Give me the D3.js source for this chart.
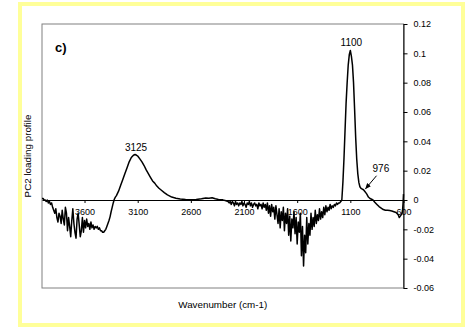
<!DOCTYPE html>
<html>
<head>
<meta charset="utf-8">
<script src="https://cdn.jsdelivr.net/npm/d3@7"></script>
<style>
  html, body { margin: 0; padding: 0; background: #ffffff; }
  svg { display: block; }
  text { font-family: "Liberation Sans", Arial, sans-serif; }
</style>
</head>
<body>
<svg id="chart" width="465" height="327"></svg>
<script>
// ---- data ----
const wavenumber = [
  4000,3990,3980,3970,3960,3950,3940,3930,3920,3910,3900,3890,3880,3870,3860,3850,3840,3830,3820,3810,
  3800,3790,3780,3770,3760,3750,3740,3730,3720,3710,3700,3690,3680,3670,3660,3650,3640,3630,3620,3610,
  3600,3590,3580,3570,3560,3550,3540,3530,3520,3510,3500,3490,3480,3470,3460,3450,3440,3430,3420,3410,
  3400,3390,3380,3370,3360,3350,3340,3330,3320,3310,
  3300,3280,3260,3240,3220,3200,3180,3160,3140,3125,3110,3100,3080,3060,3040,3020,3000,2980,2960,2940,
  2920,2900,2880,2850,2820,2780,2740,2700,2650,2600,2550,2500,2460,2430,2400,2370,2340,2300,2270,
  2250,2240,2230,2220,2210,2200,2190,2180,2170,2160,2150,2140,2130,2120,2110,2100,2090,2080,2070,2060,
  2050,2040,2030,2020,2010,2000,1990,1980,1970,1960,1950,1940,1930,1920,1910,1900,1890,1880,1870,1860,
  1850,1840,1830,1820,1810,1800,1790,1780,1770,1760,1750,1740,1730,1720,1710,1700,1690,1680,1670,1660,
  1650,1640,1630,1620,1610,1600,1590,1580,1570,1560,1550,1540,1530,1520,1510,1500,1490,1480,1470,1460,
  1450,1440,1430,1420,1410,1400,1390,1380,1370,1360,1350,1340,1330,1320,1310,1300,1290,1280,1270,1260,
  1250,1240,1230,1220,1210,1200,1190,
  1180,1170,1160,1150,1140,1130,1120,1110,1100,1090,1080,1070,1060,1050,1040,1030,1020,1010,1000,990,
  976,960,945,930,915,900,887,870,850,830,810,790,770,750,730,710,690,670,650,640,
  630,620,610,604,600
];
const pc2Loading = [
  0.001,0.001,0.000,0.000,-0.001,0.000,-0.002,-0.001,-0.003,-0.002,-0.005,-0.007,-0.009,-0.006,-0.012,-0.015,-0.009,-0.011,-0.016,-0.007,
  -0.013,-0.017,-0.005,-0.009,-0.021,-0.012,-0.018,-0.025,-0.014,-0.006,-0.016,-0.022,-0.026,-0.013,-0.009,-0.017,-0.025,-0.021,-0.012,-0.022,
  -0.014,-0.019,-0.013,-0.018,-0.016,-0.020,-0.015,-0.019,-0.017,-0.020,-0.018,-0.019,-0.018,-0.020,-0.019,-0.021,-0.021,-0.022,-0.022,-0.021,
  -0.020,-0.018,-0.016,-0.014,-0.0115,-0.008,-0.005,-0.002,0.0005,0.002,
  0.003,0.006,0.010,0.014,0.018,0.022,0.026,0.029,0.0305,0.031,0.0305,0.030,0.028,0.026,0.0235,0.0205,0.018,0.0155,0.013,0.0115,
  0.0095,0.008,0.0068,0.005,0.0035,0.002,0.0012,0.0007,0.0004,0.0002,0.0004,0.0008,0.0014,0.0012,0.0015,0.0008,0.0004,0.0001,-0.0005,
  -0.001,-0.002,-0.001,-0.003,-0.001,-0.002,-0.004,-0.001,-0.003,-0.002,-0.004,-0.002,-0.003,-0.001,-0.004,-0.002,-0.003,-0.005,-0.002,-0.003,
  -0.001,-0.004,-0.002,-0.005,-0.003,-0.002,-0.004,-0.003,-0.006,-0.002,-0.004,-0.003,-0.006,-0.002,-0.005,-0.003,-0.007,-0.002,-0.009,-0.004,
  -0.011,-0.003,-0.008,-0.005,-0.013,-0.004,-0.010,-0.016,-0.006,-0.019,-0.008,-0.014,-0.005,-0.021,-0.009,-0.016,-0.006,-0.024,-0.011,-0.028,
  -0.013,-0.019,-0.008,-0.023,-0.012,-0.030,-0.015,-0.022,-0.009,-0.038,-0.018,-0.045,-0.024,-0.036,-0.012,-0.030,-0.016,-0.024,-0.009,-0.020,
  -0.012,-0.018,-0.007,-0.016,-0.010,-0.014,-0.006,-0.013,-0.008,-0.012,-0.005,-0.010,-0.004,-0.008,-0.005,-0.007,-0.003,-0.006,-0.004,-0.005,
  -0.003,-0.004,-0.002,-0.003,-0.002,-0.002,-0.001,
  0.000,0.012,0.028,0.047,0.066,0.080,0.092,0.099,0.102,0.098,0.092,0.080,0.062,0.043,0.028,0.018,0.012,0.009,0.008,0.0075,
  0.007,0.0055,0.004,0.002,0.001,0.0005,0.000,-0.0015,-0.003,-0.0045,-0.0055,-0.0065,-0.007,-0.007,-0.0072,-0.0075,-0.008,-0.0085,-0.010,-0.012,
  -0.011,-0.010,-0.008,-0.002,0.004
];
const xTicks = [3600, 3100, 2600, 2100, 1600, 1100, 600];
const xTickLabels = ["3600", "3100", "2600", "2100", "1600", "1100", "600"];
const yTicks = [0.12, 0.1, 0.08, 0.06, 0.04, 0.02, 0, -0.02, -0.04, -0.06];
const yTickLabels = ["0.12", "0.1", "0.08", "0.06", "0.04", "0.02", "0", "-0.02", "-0.04", "-0.06"];
const peakLabels = [
  { wn: 3125, val: 0.031, text: "3125" },
  { wn: 1100, val: 0.102, text: "1100" }
];
const arrowLabel = { wn: 976, val: 0.007, text: "976" };

// ---- layout ----
const svg = d3.select("#chart");
const plot = { left: 42, top: 24, right: 403.5, bottom: 288 };

svg.append("rect")
  .attr("x", 20).attr("y", 4).attr("width", 443).attr("height", 321)
  .attr("fill", "#ffffff").attr("stroke", "#ffff99").attr("stroke-width", 4);

const x = d3.scaleLinear().domain([4000, 600]).range([plot.left, plot.right]);
const y = d3.scaleLinear().domain([-0.06, 0.12]).range([plot.bottom, plot.top]);

// plot area border
svg.append("rect")
  .attr("x", plot.left).attr("y", plot.top)
  .attr("width", plot.right - plot.left).attr("height", plot.bottom - plot.top)
  .attr("fill", "none").attr("stroke", "#808080").attr("stroke-width", 1);

// x axis at y = 0
const xAxis = svg.append("g")
  .attr("transform", `translate(0,${y(0)})`)
  .call(d3.axisBottom(x).tickValues(xTicks)
    .tickFormat((d, i) => xTickLabels[i]).tickSize(3).tickSizeOuter(0).tickPadding(6));
xAxis.select(".domain").attr("stroke", "#000").attr("stroke-width", 1);
xAxis.selectAll(".tick line").attr("stroke", "#000");
xAxis.selectAll("text").attr("font-size", 9).attr("fill", "#000")
  .attr("font-family", "'Liberation Sans', Arial, sans-serif");

// y axis on the right
const yAxis = svg.append("g")
  .attr("transform", `translate(${plot.right},0)`)
  .call(d3.axisRight(y).tickValues(yTicks)
    .tickFormat((d, i) => yTickLabels[i]).tickSize(4).tickSizeOuter(0).tickPadding(6));
yAxis.select(".domain").attr("stroke", "#000").attr("stroke-width", 1);
yAxis.selectAll(".tick line").attr("stroke", "#000");
yAxis.selectAll("text").attr("font-size", 9).attr("fill", "#000")
  .attr("font-family", "'Liberation Sans', Arial, sans-serif");

// spectrum line
const series = wavenumber.map((w, i) => ({ w, v: pc2Loading[i] }));
svg.append("path")
  .datum(series)
  .attr("fill", "none")
  .attr("stroke", "#000")
  .attr("stroke-width", 1.5)
  .attr("stroke-linejoin", "round")
  .attr("d", d3.line().x(d => x(d.w)).y(d => y(d.v)));

// panel label
svg.append("text")
  .attr("x", 55).attr("y", 52)
  .attr("font-size", 13).attr("font-weight", "bold")
  .text("c)");

// peak annotations
svg.selectAll(".peak")
  .data(peakLabels)
  .enter().append("text")
  .attr("class", "peak")
  .attr("x", d => x(d.wn) + 1)
  .attr("y", d => y(d.val) - 4)
  .attr("text-anchor", "middle")
  .attr("font-size", 10)
  .text(d => d.text);

// 976 arrow annotation
const ax = x(arrowLabel.wn), ay = y(arrowLabel.val);
svg.append("defs").append("marker")
  .attr("id", "arrowhead").attr("viewBox", "0 0 10 10")
  .attr("refX", 9).attr("refY", 5)
  .attr("markerWidth", 6).attr("markerHeight", 6)
  .attr("orient", "auto")
  .append("path").attr("d", "M0,1 L10,5 L0,9 z").attr("fill", "#000");
svg.append("line")
  .attr("x1", ax + 13).attr("y1", ay - 14)
  .attr("x2", ax + 2).attr("y2", ay - 1)
  .attr("stroke", "#000").attr("stroke-width", 1)
  .attr("marker-end", "url(#arrowhead)");
svg.append("text")
  .attr("x", ax + 9).attr("y", ay - 18)
  .attr("font-size", 10)
  .text(arrowLabel.text);

// axis titles
svg.append("text")
  .attr("x", (plot.left + plot.right) / 2).attr("y", 308)
  .attr("text-anchor", "middle").attr("font-size", 9.8)
  .text("Wavenumber (cm-1)");
svg.append("text")
  .attr("transform", `translate(31,${(plot.top + plot.bottom) / 2}) rotate(-90)`)
  .attr("text-anchor", "middle").attr("font-size", 9.8)
  .text("PC2 loading profile");
</script>
</body>
</html>
